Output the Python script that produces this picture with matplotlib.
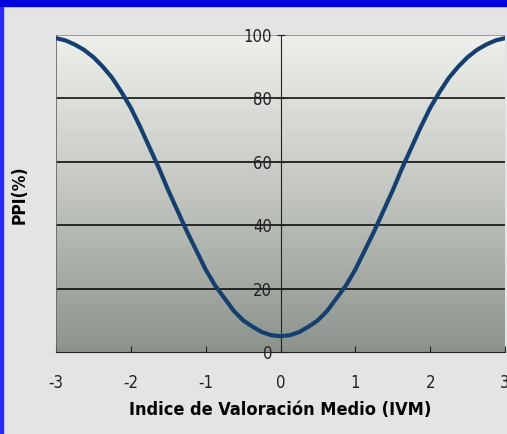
import matplotlib
matplotlib.use("Agg")
import matplotlib.pyplot as plt
import numpy as np
from matplotlib.patches import Rectangle
from matplotlib.colors import LinearSegmentedColormap

# values
ivm = [-3.0, -2.875, -2.75, -2.625, -2.5, -2.375, -2.25, -2.125, -2.0, -1.875, -1.75,
       -1.625, -1.5, -1.375, -1.25, -1.125, -1.0, -0.875, -0.75, -0.625, -0.5, -0.375,
       -0.25, -0.125, 0.0, 0.125, 0.25, 0.375, 0.5, 0.625, 0.75, 0.875, 1.0, 1.125, 1.25,
       1.375, 1.5, 1.625, 1.75, 1.875, 2.0, 2.125, 2.25, 2.375, 2.5, 2.625, 2.75, 2.875, 3.0]
ppi = [99, 98.3, 97, 95.3, 93, 90, 86.5, 82, 77, 71, 64.5,
       58, 51, 44.5, 38, 32, 26, 21, 17, 13, 10, 8,
       6.3, 5.3, 5, 5.3, 6.3, 8, 10, 13, 17, 21, 26, 32, 38,
       44.5, 51, 58, 64.5, 71, 77, 82, 86.5, 90, 93, 95.3, 97, 98.3, 99]

x_ticks = [-3, -2, -1, 0, 1, 2, 3]
y_ticks = [0, 20, 40, 60, 80, 100]
x_label = "Indice de Valoración Medio (IVM)"
y_label = "PPI(%)"

plt.rcParams["font.family"] = ["DejaVu Sans"]
plt.rcParams["font.stretch"] = "condensed"

fig = plt.figure(figsize=(5.07, 4.34), dpi=100)
fig.patch.set_facecolor("#e4e4e4")
# blue frame strips (left and top)
fig.patches.append(Rectangle((0, 0), 3 / 507, 1, transform=fig.transFigure,
                             color="#2a2aff", zorder=5))
fig.patches.append(Rectangle((0, 1 - 6 / 434), 1, 6 / 434, transform=fig.transFigure,
                             color="#0000dd", zorder=5))

ax = fig.add_axes([56 / 507, 1 - 352 / 434, 449 / 507, 317 / 434])
ax.set_xlim(-3, 3)
ax.set_ylim(0, 100)

# vertical grey gradient in the plot area
cmap = LinearSegmentedColormap.from_list("bg", ["#8c938d", "#c2c5c0", "#eff0ec"])
grad = np.linspace(0, 1, 256).reshape(-1, 1)
ax.imshow(grad, cmap=cmap, aspect="auto", extent=(-3, 3, 0, 100),
          origin="lower", zorder=0)

for y in y_ticks[1:-1]:
    ax.axhline(y, color="black", linewidth=1.1, zorder=1)
ax.axhline(100, color="#8a8a8a", linewidth=1.2, zorder=1)

ax.plot(ivm, ppi, color="#153f6e", linewidth=3.0, solid_capstyle="round", zorder=3)

ax.spines["left"].set_position(("data", 0))
ax.spines["left"].set_color("#222222")
ax.spines["bottom"].set_color("#222222")
ax.spines["top"].set_visible(False)
ax.spines["right"].set_visible(False)
ax.axvline(-3, color="#666666", linewidth=1.2, zorder=2)

ax.set_xticks(x_ticks)
ax.set_xticklabels([str(t) for t in x_ticks])
ax.set_yticks(y_ticks)
ax.set_yticklabels([str(t) for t in y_ticks])
ax.tick_params(axis="x", direction="in", length=4, pad=16, labelsize=12, colors="#222222")
ax.tick_params(axis="y", direction="inout", length=6, pad=3, labelsize=12, colors="#222222")

ax.set_xlabel(x_label, fontsize=13, fontweight="bold", labelpad=6)
fig.text(20 / 507, 1 - 195 / 434, y_label, rotation=90, fontsize=12.5, fontweight="bold",
         ha="center", va="center")

fig.savefig("out.png", dpi=100, facecolor=fig.get_facecolor())
